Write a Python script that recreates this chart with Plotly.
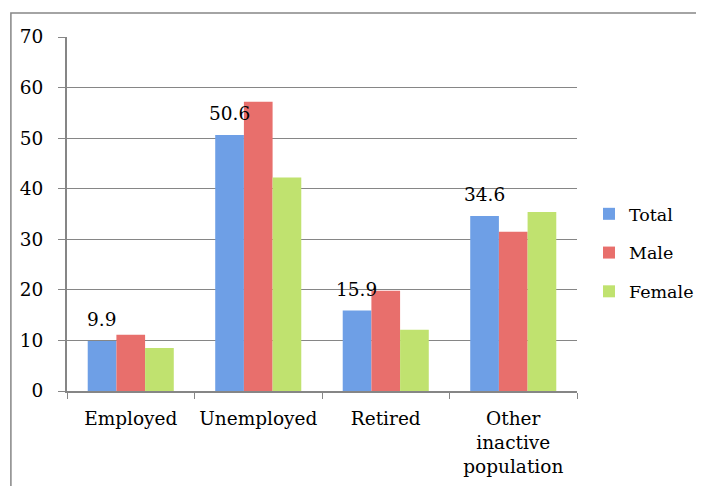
import plotly.graph_objects as go

categories = ["Employed", "Unemployed", "Retired", "Other<br>inactive<br>population"]
total = [9.9, 50.6, 15.9, 34.6]
male = [11.1, 57.2, 19.8, 31.5]
female = [8.5, 42.2, 12.1, 35.4]
series_names = ["Total", "Male", "Female"]
colors = ["#6e9fe6", "#e86f6c", "#c0e26f"]

FONT = "DejaVu Serif"
FS = 18.5
GRAY = "#868686"

fig = go.Figure()
for name, vals, col in zip(series_names, [total, male, female], colors):
    fig.add_trace(go.Bar(
        name=name, x=categories, y=vals, legendgroup=name,
        marker=dict(color=col, line=dict(width=0)),
    ))

for cat, v in zip(categories, total):
    fig.add_annotation(
        x=cat, y=v, text=f"{v:.1f}", showarrow=False,
        xanchor="center", yanchor="bottom", xshift=-29, yshift=9,
        font=dict(family=FONT, size=FS, color="black"),
    )

fig.add_shape(
    type="path", xref="paper", yref="paper",
    path="M -0.11,-0.35 L -0.11,1.068 L 1.3,1.068",
    line=dict(color=GRAY, width=1.5),
)

fig.update_layout(
    width=704, height=486,
    margin=dict(l=59, r=135, t=29, b=103, autoexpand=False),
    paper_bgcolor="white", plot_bgcolor="white",
    barmode="group", bargap=0.325, bargroupgap=0,
    font=dict(family=FONT, size=FS, color="black"),
    showlegend=True,
    legend=dict(
        x=1.0235, y=0.39, xanchor="left", yanchor="middle",
        traceorder="grouped", tracegroupgap=13,
        font=dict(family=FONT, size=17.5, color="black"),
        bgcolor="rgba(0,0,0,0)",
    ),
)
fig.update_xaxes(
    type="category", showline=True, linecolor=GRAY, linewidth=2,
    ticks="outside", tickson="boundaries", ticklen=6, tickcolor=GRAY, tickwidth=1,
    showgrid=False, tickangle=0, automargin=False, ticklabelstandoff=10,
    tickfont=dict(family=FONT, size=FS, color="black"),
)
fig.update_yaxes(
    range=[0, 70], dtick=10, showline=True, linecolor=GRAY, linewidth=2,
    ticks="outside", ticklen=7, tickcolor=GRAY, tickwidth=1,
    showgrid=True, gridcolor=GRAY, gridwidth=1, zeroline=False, automargin=False,
    ticklabelstandoff=11,
    tickfont=dict(family=FONT, size=FS, color="black"),
)

fig.write_html("out.html")
